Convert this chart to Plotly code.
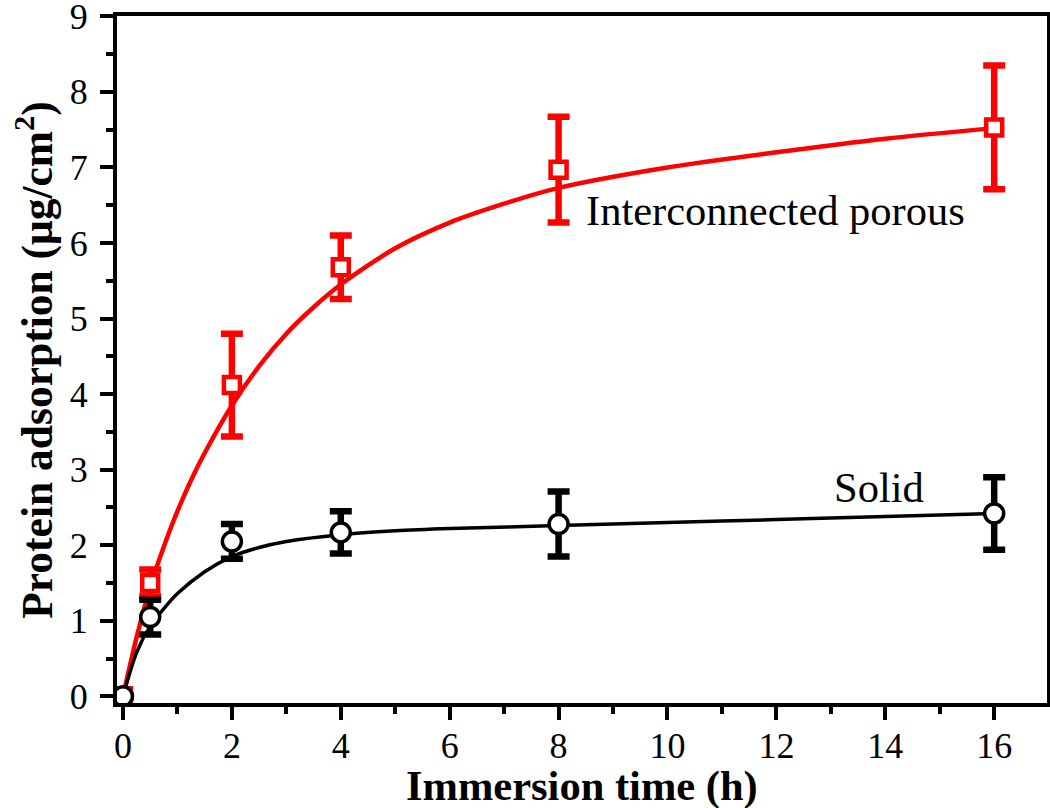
import plotly.graph_objects as go

# Measured data points
time_h = [0, 0.5, 2, 4, 8, 16]
porous_mean = [0, 1.50, 4.12, 5.68, 6.97, 7.53]
porous_err = [0, 0.18, 0.68, 0.42, 0.70, 0.82]
solid_mean = [0, 1.05, 2.05, 2.17, 2.28, 2.42]
solid_err = [0, 0.23, 0.23, 0.28, 0.43, 0.48]

# Fitted curves
porous_fit_x = [0, 0.25, 0.5, 0.75, 1, 1.25, 1.5, 2, 2.5, 3, 3.5, 4, 5, 6, 7, 8, 10, 12, 14, 16]
porous_fit_y = [0, 0.78, 1.45, 1.98, 2.45, 2.86, 3.22, 3.85, 4.37, 4.8, 5.15, 5.45, 5.93, 6.27, 6.52, 6.73, 7.0, 7.2, 7.38, 7.52]
solid_fit_x = [0, 0.25, 0.5, 0.75, 1, 1.5, 2, 2.5, 3, 4, 5, 6, 8, 10, 12, 14, 16]
solid_fit_y = [0, 0.58, 0.93, 1.16, 1.36, 1.65, 1.85, 1.97, 2.05, 2.14, 2.19, 2.22, 2.26, 2.30, 2.34, 2.38, 2.42]

x_ticks = [0, 2, 4, 6, 8, 10, 12, 14, 16]
y_ticks = [0, 1, 2, 3, 4, 5, 6, 7, 8, 9]

RED = "#ff0000"
BLACK = "#000000"
FONT = "Times New Roman, Liberation Serif, serif"

fig = go.Figure()

fig.add_trace(go.Scatter(x=porous_fit_x, y=porous_fit_y, mode="lines",
                         line=dict(color=RED, width=4.5, shape="spline", smoothing=0.8),
                         hoverinfo="skip", showlegend=False))
fig.add_trace(go.Scatter(x=solid_fit_x, y=solid_fit_y, mode="lines",
                         line=dict(color=BLACK, width=3.5, shape="spline", smoothing=0.8),
                         hoverinfo="skip", showlegend=False))

fig.add_trace(go.Scatter(x=time_h, y=porous_mean, mode="markers",
                         marker=dict(symbol="square", size=16, color="white",
                                     line=dict(color=RED, width=4.5)),
                         error_y=dict(type="data", array=porous_err, visible=True,
                                      color=RED, thickness=6.5, width=11),
                         showlegend=False))
fig.add_trace(go.Scatter(x=time_h, y=solid_mean, mode="markers",
                         marker=dict(symbol="circle", size=19, color="white",
                                     line=dict(color=BLACK, width=3.5)),
                         error_y=dict(type="data", array=solid_err, visible=True,
                                      color=BLACK, thickness=6.5, width=11),
                         showlegend=False))

fig.add_annotation(x=8.47, y=6.43, xref="x", yref="y", text="Interconnected porous",
                   showarrow=False, xanchor="left", yanchor="middle",
                   font=dict(family=FONT, size=42.5, color=BLACK))
fig.add_annotation(x=13.03, y=2.77, xref="x", yref="y", text="Solid",
                   showarrow=False, xanchor="left", yanchor="middle",
                   font=dict(family=FONT, size=42.5, color=BLACK))

fig.add_annotation(x=0.5, y=-0.121, xref="paper", yref="paper", text="<b>Immersion time (h)</b>",
                   showarrow=False, xanchor="center", yanchor="middle",
                   font=dict(family=FONT, size=42.5, color=BLACK))
fig.add_annotation(x=-0.089, y=0.5, xref="paper", yref="paper",
                   text="<b>Protein adsorption (μg/cm<sup>2</sup>)</b>",
                   showarrow=False, xanchor="center", yanchor="middle", textangle=-90,
                   font=dict(family=FONT, size=43.5, color=BLACK))

axis_common = dict(showline=True, linecolor=BLACK, linewidth=4, mirror=True,
                   ticks="outside", ticklen=13, tickwidth=4, tickcolor=BLACK,
                   showgrid=False, zeroline=False, automargin=False,
                   ticklabeloverflow="allow",
                   tickfont=dict(family=FONT, size=36, color=BLACK))

fig.update_xaxes(range=[-0.11, 16.97], tickvals=x_ticks, ticktext=[str(v) for v in x_ticks],
                 minor=dict(ticks="outside", ticklen=7, tickwidth=4, tickcolor=BLACK, dtick=1, tick0=0),
                 ticklabelstandoff=-5, **axis_common)
fig.update_yaxes(range=[-0.088, 9.004], tickvals=y_ticks, ticktext=[str(v) for v in y_ticks],
                 minor=dict(ticks="outside", ticklen=7, tickwidth=4, tickcolor=BLACK, dtick=0.5, tick0=0),
                 ticklabelstandoff=5, **axis_common)

fig.update_layout(width=1050, height=808,
                  margin=dict(l=117, r=3, t=16, b=105),
                  plot_bgcolor="white", paper_bgcolor="white",
                  showlegend=False)

fig.write_html("out.html", config={"displayModeBar": False},
               post_script="document.body.style.margin='0';")
